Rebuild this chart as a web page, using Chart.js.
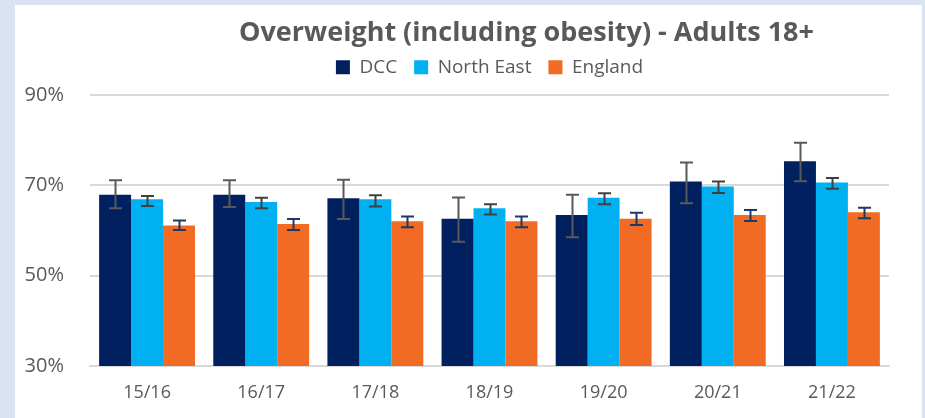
<!DOCTYPE html>
<html>
<head>
<meta charset="utf-8">
<script src="https://cdn.jsdelivr.net/npm/chart.js@4.4.1/dist/chart.umd.min.js"></script>
<style>
  html, body { margin: 0; padding: 0; background: #dae3f3; }
  #wrap { width: 925px; height: 418px; position: relative; }
</style>
</head>
<body>
<div id="wrap"><canvas id="owChart" width="925" height="418"></canvas></div>
<script>
const years = ["15/16", "16/17", "17/18", "18/19", "19/20", "20/21", "21/22"];

const dcc = [67.9, 67.9, 67.1, 62.6, 63.4, 70.8, 75.3];
const dccLow = [64.9, 65.2, 62.5, 57.5, 58.5, 66.0, 70.9];
const dccHigh = [71.1, 71.1, 71.2, 67.3, 67.9, 75.0, 79.4];

const northEast = [66.9, 66.3, 66.9, 64.9, 67.2, 69.7, 70.6];
const neLow = [65.4, 64.9, 65.3, 63.5, 65.8, 68.3, 69.2];
const neHigh = [67.6, 67.2, 67.8, 65.8, 68.2, 70.8, 71.6];

const england = [61.1, 61.4, 62.0, 62.0, 62.6, 63.4, 64.0];
const engLow = [60.1, 60.1, 60.7, 60.7, 61.2, 62.1, 62.7];
const engHigh = [62.2, 62.5, 63.1, 63.1, 63.9, 64.5, 65.0];

const yTicks = [30, 50, 70, 90];

const lows = [dccLow, neLow, engLow];
const highs = [dccHigh, neHigh, engHigh];
const errColors = ["#595959", "#404040", "#1f3864"];

// white panel on the light blue page, like the Excel chart area
const panelBg = {
  id: "panelBg",
  beforeDraw(chart) {
    const c = chart.ctx;
    c.save();
    c.fillStyle = "#dae3f3";
    c.fillRect(0, 0, chart.width, chart.height);
    c.fillStyle = "#ffffff";
    c.fillRect(15, 5, 907, chart.height - 5);
    c.restore();
  }
};

// title sits right of the plot centre, legend sits higher above the plot in the original
const nudgeHeader = {
  id: "nudgeHeader",
  afterLayout(chart) {
    const t = chart.titleBlock;
    if (t) { t.left += 37; t.right += 37; }
    const lg = chart.legend;
    if (lg) { lg.top -= 8; lg.bottom -= 8; }
  }
};

const errorBars = {
  id: "errorBars",
  afterDatasetsDraw(chart) {
    const c = chart.ctx;
    const y = chart.scales.y;
    c.save();
    c.lineWidth = 2;
    chart.data.datasets.forEach((ds, i) => {
      const meta = chart.getDatasetMeta(i);
      if (meta.hidden) return;
      c.strokeStyle = errColors[i];
      meta.data.forEach((bar, j) => {
        const top = y.getPixelForValue(highs[i][j]);
        const bot = y.getPixelForValue(lows[i][j]);
        const x = Math.round(bar.x) + 0.5;
        c.beginPath();
        c.moveTo(x, top); c.lineTo(x, bot);
        c.moveTo(x - 6.5, top); c.lineTo(x + 6.5, top);
        c.moveTo(x - 6.5, bot); c.lineTo(x + 6.5, bot);
        c.stroke();
      });
    });
    c.restore();
  }
};

const grey = "#595959";

new Chart(document.getElementById("owChart").getContext("2d"), {
  type: "bar",
  data: {
    labels: years,
    datasets: [
      { label: "DCC", data: dcc, backgroundColor: "#002060" },
      { label: "North East", data: northEast, backgroundColor: "#00b0f0" },
      { label: "England", data: england, backgroundColor: "#f26b25" }
    ]
  },
  options: {
    responsive: false,
    animation: false,
    layout: { padding: { left: 15, right: 36, top: 8, bottom: 0 } },
    datasets: { bar: { categoryPercentage: 0.84, barPercentage: 1.0 } },
    plugins: {
      title: {
        display: true,
        fullSize: false,
        text: "Overweight (including obesity) - Adults 18+",
        color: grey,
        font: { family: "'Open Sans'", size: 27, weight: "bold", lineHeight: 0.4 },
        padding: { top: 20, bottom: 10 }
      },
      legend: {
        fullSize: false,
        labels: {
          color: grey,
          font: { family: "'Open Sans'", size: 19 },
          boxWidth: 14,
          boxHeight: 14,
          padding: 17
        }
      },
      tooltip: { enabled: false }
    },
    scales: {
      x: {
        grid: { display: false },
        border: { color: "#d9d9d9", width: 2 },
        ticks: { color: grey, font: { family: "'Open Sans'", size: 18 }, padding: 8 },
        afterFit(s) { s.height = 52; }
      },
      y: {
        min: 30,
        max: 90,
        afterBuildTicks(s) { s.ticks = yTicks.map(v => ({ value: v })); },
        grid: { color: "#d9d9d9", lineWidth: 2, drawTicks: false },
        border: { display: false },
        ticks: {
          color: grey,
          font: { family: "'Open Sans'", size: 20 },
          padding: 26,
          callback: v => v + "%"
        },
        afterFit(s) { s.width = 75; }
      }
    }
  },
  plugins: [panelBg, nudgeHeader, errorBars]
});
</script>
</body>
</html>
